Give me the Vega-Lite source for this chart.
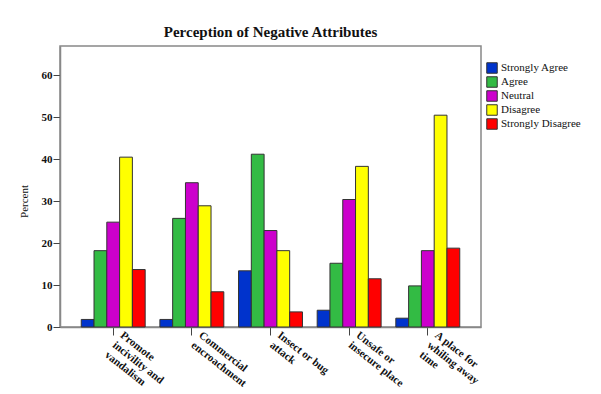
{
  "$schema": "https://vega.github.io/schema/vega-lite/v6.json",
  "autosize": "none",
  "width": 421,
  "height": 281,
  "padding": {"left": 60, "top": 46, "right": 120, "bottom": 67},
  "background": "white",
  "title": {
    "text": "Perception of Negative Attributes",
    "font": "Liberation Serif",
    "fontSize": 15,
    "fontWeight": "bold",
    "color": "#111",
    "anchor": "middle",
    "offset": 6
  },
  "data": {
    "values": [
      {"category": "Promote incivility and vandalism", "response": "Strongly Agree", "percent": 1.8},
      {"category": "Promote incivility and vandalism", "response": "Agree", "percent": 18.2},
      {"category": "Promote incivility and vandalism", "response": "Neutral", "percent": 25.0},
      {"category": "Promote incivility and vandalism", "response": "Disagree", "percent": 40.5},
      {"category": "Promote incivility and vandalism", "response": "Strongly Disagree", "percent": 13.7},
      {"category": "Commercial encroachment", "response": "Strongly Agree", "percent": 1.8},
      {"category": "Commercial encroachment", "response": "Agree", "percent": 25.9},
      {"category": "Commercial encroachment", "response": "Neutral", "percent": 34.4},
      {"category": "Commercial encroachment", "response": "Disagree", "percent": 28.9},
      {"category": "Commercial encroachment", "response": "Strongly Disagree", "percent": 8.4},
      {"category": "Insect or bug attack", "response": "Strongly Agree", "percent": 13.4},
      {"category": "Insect or bug attack", "response": "Agree", "percent": 41.2},
      {"category": "Insect or bug attack", "response": "Neutral", "percent": 23.0},
      {"category": "Insect or bug attack", "response": "Disagree", "percent": 18.2},
      {"category": "Insect or bug attack", "response": "Strongly Disagree", "percent": 3.6},
      {"category": "Unsafe or insecure place", "response": "Strongly Agree", "percent": 4.0},
      {"category": "Unsafe or insecure place", "response": "Agree", "percent": 15.2},
      {"category": "Unsafe or insecure place", "response": "Neutral", "percent": 30.4},
      {"category": "Unsafe or insecure place", "response": "Disagree", "percent": 38.3},
      {"category": "Unsafe or insecure place", "response": "Strongly Disagree", "percent": 11.5},
      {"category": "A place for whiling away time", "response": "Strongly Agree", "percent": 2.1},
      {"category": "A place for whiling away time", "response": "Agree", "percent": 9.8},
      {"category": "A place for whiling away time", "response": "Neutral", "percent": 18.2},
      {"category": "A place for whiling away time", "response": "Disagree", "percent": 50.5},
      {"category": "A place for whiling away time", "response": "Strongly Disagree", "percent": 18.8}
    ]
  },
  "mark": {"type": "bar", "stroke": "#333333", "strokeWidth": 1},
  "encoding": {
    "x": {
      "field": "category",
      "type": "nominal",
      "sort": null,
      "scale": {"paddingInner": 0.187, "paddingOuter": 0.27},
      "axis": {
        "title": null,
        "labelAngle": 38,
        "labelAlign": "left",
        "labelBaseline": "top",
        "labelOffset": 12,
        "labelPadding": -6,
        "labelFont": "Liberation Serif",
        "labelFontWeight": "bold",
        "labelFontSize": 11,
        "labelLineHeight": 12.5,
        "labelColor": "#111",
        "tickSize": 8,
        "tickColor": "#444",
        "domainColor": "#888",
        "domainWidth": 1.5,
        "labelExpr": "datum.value == 'Promote incivility and vandalism' ? ['Promote', 'incivility and', 'vandalism'] : datum.value == 'Commercial encroachment' ? ['Commercial', 'encroachment'] : datum.value == 'Insect or bug attack' ? ['Insect or bug', 'attack'] : datum.value == 'Unsafe or insecure place' ? ['Unsafe or', 'insecure place'] : ['A place for', 'whiling away', 'time']"
      }
    },
    "xOffset": {
      "field": "response",
      "type": "nominal",
      "sort": ["Strongly Agree", "Agree", "Neutral", "Disagree", "Strongly Disagree"],
      "scale": {"paddingInner": 0, "paddingOuter": 0}
    },
    "y": {
      "field": "percent",
      "type": "quantitative",
      "scale": {"domain": [0, 67], "nice": false},
      "axis": {
        "title": "Percent",
        "titleFont": "Liberation Serif",
        "titleFontWeight": "normal",
        "titleFontSize": 11,
        "titleColor": "#111",
        "titlePadding": 12,
        "titleY": 155,
        "values": [0, 10, 20, 30, 40, 50, 60],
        "grid": false,
        "tickSize": 7,
        "tickColor": "#444",
        "labelPadding": 1,
        "labelFont": "Liberation Serif",
        "labelFontWeight": "bold",
        "labelFontSize": 11,
        "labelColor": "#111",
        "domainColor": "#888",
        "domainWidth": 1.5
      }
    },
    "color": {
      "field": "response",
      "type": "nominal",
      "sort": ["Strongly Agree", "Agree", "Neutral", "Disagree", "Strongly Disagree"],
      "scale": {
        "domain": ["Strongly Agree", "Agree", "Neutral", "Disagree", "Strongly Disagree"],
        "range": ["#0033cc", "#33bb44", "#cc00cc", "#ffff00", "#ff0000"]
      },
      "legend": {
        "title": null,
        "orient": "none",
        "legendX": 426,
        "legendY": 16,
        "symbolType": "square",
        "symbolSize": 110,
        "symbolStrokeColor": "#333",
        "symbolStrokeWidth": 1,
        "symbolOpacity": 1,
        "labelFont": "Liberation Serif",
        "labelFontSize": 11,
        "labelColor": "#111",
        "labelOffset": 3,
        "rowPadding": -3
      }
    }
  },
  "config": {
    "view": {"stroke": "#888888", "strokeWidth": 1.5}
  }
}
